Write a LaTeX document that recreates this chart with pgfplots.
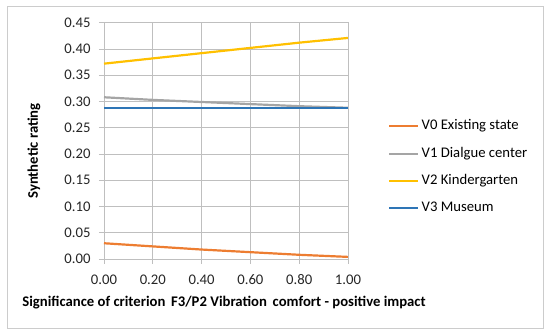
\documentclass[border=0pt]{standalone}
\usepackage{fontspec}
\setmainfont{Carlito}
\usepackage{pgfplots}
\pgfplotsset{compat=1.18}
\definecolor{cOr}{HTML}{ED7D31}
\definecolor{cGr}{HTML}{A5A5A5}
\definecolor{cYe}{HTML}{FFC000}
\definecolor{cBl}{HTML}{2E75B6}
\definecolor{cGrid}{HTML}{BFBFBF}
\newcommand{\ff}{\fontsize{14.7}{17.6}\selectfont}
\begin{document}
\begin{tikzpicture}[x=1pt,y=1pt,font=\ff]
\path[use as bounding box] (0,0) rectangle (550,334);
\draw[draw=cGrid!80, line width=0.8pt] (7,6) rectangle (543,328);
\begin{axis}[
  at={(104pt,75pt)}, anchor=south west,
  scale only axis, width=244pt, height=236.3pt,
  xmin=0, xmax=1, ymin=0, ymax=0.45,
  xtick={0,0.2,0.4,0.6,0.8,1.0},
  ytick={0,0.05,0.10,0.15,0.20,0.25,0.30,0.35,0.40,0.45},
  grid=major, grid style={cGrid, line width=0.7pt},
  axis line style={cGrid, line width=0.7pt},
  tick style={cGrid, line width=0.7pt},
  tick align=outside, major tick length=5pt,
  xtick pos=bottom, ytick pos=left,
  /pgf/number format/.cd, fixed, fixed zerofill, precision=2, assume math mode=true,
  /pgfplots/.cd,
  ticklabel style={font=\ff, text=black!85},
  xticklabel style={yshift=-7pt},
  yticklabel style={xshift=-5pt},
  xlabel={\textbf{Significance of criterion\, F3/P2 Vibration\, comfort - positive impact}},
  xlabel style={at={(axis description cs:0.492,-0.185)}, anchor=center, font=\ff},
  ylabel={\textbf{Synthetic rating}},
  ylabel style={at={(axis description cs:-0.287,0.457)}, anchor=center, font=\ff},
  legend image code/.code={\draw[#1,line width=2pt] (0pt,0pt) -- (29pt,0pt);},
  legend style={at={(1.164,0.388)}, anchor=west, draw=none, fill=none,
    inner sep=0pt, row sep=14.3pt, font=\ff,
    nodes={font=\ff, inner xsep=2.5pt, inner ysep=0pt, text height=10pt, text depth=3pt}},
  legend cell align=left,
  every axis plot/.append style={line width=2.2pt},
]
\addplot[cOr] coordinates {(0,0.030) (0.2,0.024) (0.4,0.018) (0.6,0.013) (0.8,0.008) (1.0,0.004)};
\addlegendentry{V0 Existing state}
\addplot[cGr] coordinates {(0,0.308) (0.2,0.303) (0.4,0.299) (0.6,0.295) (0.8,0.291) (1.0,0.288)};
\addlegendentry{V1 Dialgue center}
\addplot[cYe] coordinates {(0,0.372) (0.2,0.382) (0.4,0.392) (0.6,0.402) (0.8,0.412) (1.0,0.421)};
\addlegendentry{V2 Kindergarten}
\addplot[cBl] coordinates {(0,0.287) (0.2,0.287) (0.4,0.287) (0.6,0.287) (0.8,0.287) (1.0,0.287)};
\addlegendentry{V3 Museum}
\end{axis}
\end{tikzpicture}
\end{document}
